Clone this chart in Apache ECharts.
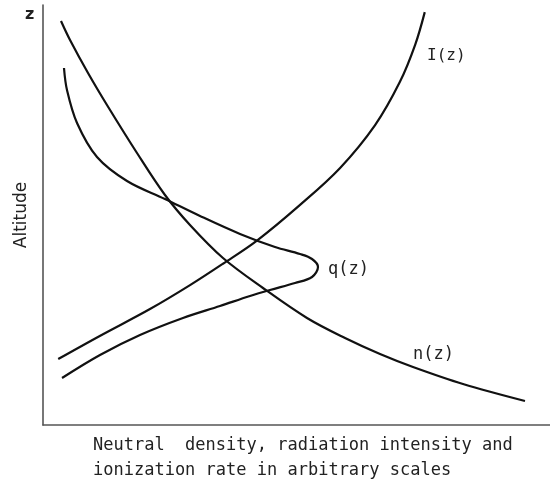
<!DOCTYPE html>
<html><head><meta charset="utf-8">
<script src="https://cdn.jsdelivr.net/npm/echarts@6/dist/echarts.min.js"></script>
<style>html,body{margin:0;padding:0;background:#fff}#c{width:550px;height:489px}</style>
</head><body><div id="c"></div>
<script>
// Values in arbitrary units (x: 0-100, altitude: 0-100)
const nX = [3.55,5.33,8.88,12.62,18.54,24.06,28.99,35.50,43.39,52.07,59.57,66.47,72.98,82.84,95.07];
const nY = [96.19,91.67,83.81,76.19,64.76,54.76,47.62,39.76,32.62,25.48,20.71,16.90,13.81,9.76,5.71];
const iX = [3.0,11.2,21.1,29.0,35.5,42.2,50.7,58.6,65.5,70.4,73.4,75.3];
const iY = [15.7,21.2,27.6,33.3,38.4,43.9,52.4,61.2,71.4,81.7,90.5,98.3];
const qX = [4.14,4.73,6.71,10.65,16.57,24.06,30.97,38.86,45.76,50.69,53.06,54.24,53.06,49.70,44.77,40.83,34.91,27.61,19.13,11.24,3.75];
const qY = [85.0,79.76,71.90,63.81,58.10,53.81,49.76,45.48,42.38,40.71,39.52,37.62,35.24,33.81,32.14,30.71,28.33,25.48,21.43,16.67,11.19];
const seriesNames = ['n(z)','I(z)','q(z)'];
const xTitleLines = ['Neutral  density, radiation intensity and','ionization rate in arbitrary scales'];
const yTitle = 'Altitude';
const zLabel = 'z';

const zip = (a,b) => a.map((v,i)=>[v,b[i]]);
const font = 'DejaVu Sans';
const mono = 'DejaVu Sans Mono';
const lineStyle = {color:'#111', width:2.2};
const mk = (name, data) => ({name, type:'line', data, smooth:0.35, showSymbol:false, symbol:'none', lineStyle, animation:false});

const chart = echarts.init(document.getElementById('c'), null, {renderer:'canvas'});
chart.setOption({
  animation:false,
  grid:{left:43, right:0, top:5, bottom:64},
  xAxis:{type:'value', min:0, max:100, axisLine:{show:true, onZero:false, lineStyle:{color:'#555', width:1.6}}, axisTick:{show:false}, axisLabel:{show:false}, splitLine:{show:false}},
  yAxis:{type:'value', min:0, max:100, axisLine:{show:true, onZero:false, lineStyle:{color:'#555', width:1.6}}, axisTick:{show:false}, axisLabel:{show:false}, splitLine:{show:false},
    name:yTitle, nameLocation:'middle', nameGap:13, nameRotate:90, nameTextStyle:{fontFamily:font, fontSize:17, color:'#222'}},
  series:[mk(seriesNames[0], zip(nX,nY)), mk(seriesNames[1], zip(iX,iY)), mk(seriesNames[2], zip(qX,qY))],
  graphic:[
    {type:'text', left:25, top:7, style:{text:zLabel, font:'bold 16px '+font, fill:'#222'}},
    {type:'text', left:427, top:48, style:{text:seriesNames[1], font:'16px '+mono, fill:'#222'}},
    {type:'text', left:328, top:261, style:{text:seriesNames[2], font:'17px '+mono, fill:'#222'}},
    {type:'text', left:413, top:346, style:{text:seriesNames[0], font:'17px '+mono, fill:'#222'}},
    {type:'text', left:93, top:437, style:{text:xTitleLines[0], font:'17px '+mono, fill:'#222'}},
    {type:'text', left:93, top:462, style:{text:xTitleLines[1], font:'17px '+mono, fill:'#222'}}
  ]
});
</script></body></html>
